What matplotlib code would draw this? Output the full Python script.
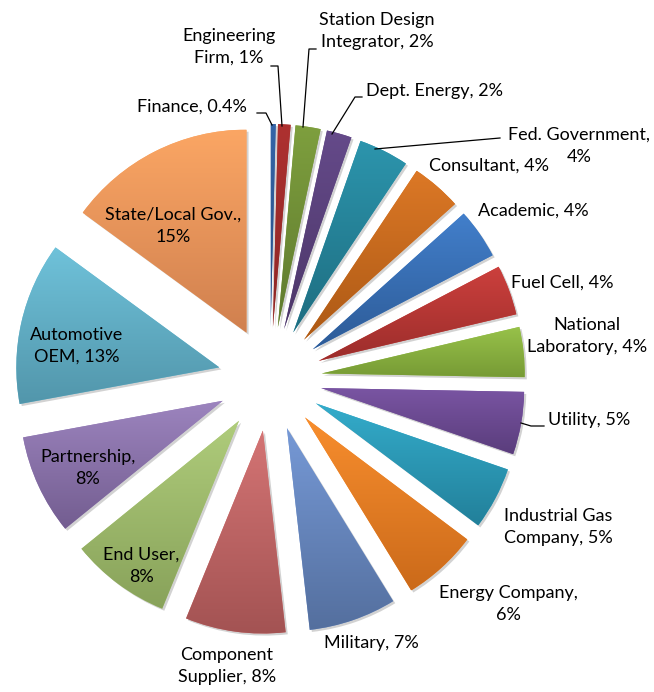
import numpy as np
import matplotlib
matplotlib.use("Agg")
import matplotlib.pyplot as plt
from matplotlib import patheffects
from matplotlib.colors import to_rgb

W, H = 654, 692

# respondent categories, clockwise from 12 o'clock
names = ["Finance", "Engineering\nFirm", "Station Design\nIntegrator", "Dept. Energy",
         "Fed. Government", "Consultant", "Academic", "Fuel Cell", "National\nLaboratory",
         "Utility", "Industrial Gas\nCompany", "Energy Company", "Military",
         "Component\nSupplier", "End User", "Partnership", "Automotive\nOEM",
         "State/Local Gov."]
shares = [0.4, 1, 2, 2, 4, 4, 4, 4, 4, 5, 5, 6, 7, 8, 8, 8, 13, 15]
seps = [", ", ", ", ", ", ", ", ",\n", ", ", ", ", ", ", ", ", ", ", ", ", ",\n",
        ", ", ", ", ",\n", ",\n", ", ", ",\n"]

top_colors = ["#3565A8", "#AE3130", "#7E9F3E", "#654A8A", "#2C95AD", "#DC7826",
              "#427FCB", "#CC403D", "#98C24A", "#7A55A3", "#34ACCB", "#F88E2E",
              "#7699D6", "#D47474", "#AFCC7B", "#9C84BE", "#6FC2DA", "#FBA664"]
bot_colors = ["#264C80", "#8C2625", "#5F7A2E", "#4C3768", "#1E6D80", "#AC5915",
              "#2D5B97", "#9C2D2B", "#779B35", "#5A3D7C", "#22809A", "#CB6A1A",
              "#546F9E", "#A35353", "#88A25A", "#735D90", "#5296AB", "#D0804F"]

# label centres (pixels from top-left)
label_xy = [(192, 107), (229, 47), (377, 31), (435, 91), (579, 146), (489, 166),
            (533, 211), (562, 283), (587, 336), (589, 420), (558, 527), (508, 604),
            (371, 643), (227, 666), (141, 566), (88, 468), (77, 346), (173, 226)]

leaders = [
    [(257, 113), (266, 113), (272, 125)],
    [(271, 66), (278, 66), (282, 126)],
    [(316, 49), (309, 49), (303, 127)],
    [(362, 97), (355, 97), (332, 134)],
    [(500, 138), (375, 149)],
    [(544, 426), (531, 426), (521, 423)],
]

fig = plt.figure(figsize=(W / 100, H / 100), dpi=100)
ax = fig.add_axes([0, 0, 1, 1])

# explode is in data units (pixels here)
wedges, _ = ax.pie(shares, explode=[52] * len(shares), radius=203, center=(270, 379),
                   startangle=-90, counterclock=True, colors=top_colors,
                   wedgeprops=dict(linewidth=0, zorder=1))

for w, c0, c1 in zip(wedges, top_colors, bot_colors):
    w.set_path_effects([patheffects.SimplePatchShadow(offset=(1.5, -1.5), shadow_rgbFace="#808080",
                                                      alpha=0.35),
                        patheffects.Normal()])
    bb = w.get_path().get_extents()
    t = np.linspace(0, 1, 256)[:, None, None]
    grad = (1 - t) * np.array(to_rgb(c0)) + t * np.array(to_rgb(c1))
    im = ax.imshow(grad, extent=(bb.x0, bb.x1, bb.y1, bb.y0), aspect="auto",
                   interpolation="bilinear", zorder=2)
    im.set_clip_path(w)

for name, sep, s, (x, y) in zip(names, seps, shares, label_xy):
    ax.text(x, y, f"{name}{sep}{s:g}%", ha="center", va="center", ma="center",
            fontsize=13, family="Lato", color="black", linespacing=1.45, zorder=5)

for pts in leaders:
    xs, ys = zip(*pts)
    ax.plot(xs, ys, color="black", lw=0.9, zorder=4)

ax.set_xlim(0, W)
ax.set_ylim(H, 0)
ax.set_aspect("auto")
ax.axis("off")

fig.savefig("out.png", dpi=100)
